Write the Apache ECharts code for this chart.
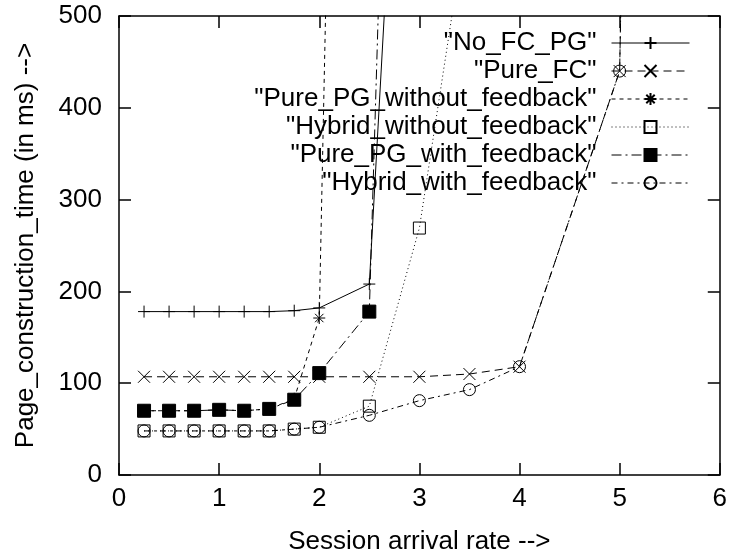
<!DOCTYPE html>
<html>
<head>
<meta charset="utf-8">
<script src="https://cdn.jsdelivr.net/npm/echarts@6/dist/echarts.min.js"></script>
<style>html,body{margin:0;padding:0;background:#fff;}#chart{width:730px;height:560px;}</style>
</head>
<body>
<div id="chart"></div>
<script>
// ---- data ----
const seriesNames = ['"No_FC_PG"', '"Pure_FC"', '"Pure_PG_without_feedback"', '"Hybrid_without_feedback"', '"Pure_PG_with_feedback"', '"Hybrid_with_feedback"'];
const noFcPgX = [0.25, 0.5, 0.75, 1, 1.25, 1.5, 1.75, 2, 2.5, 3];
const noFcPgY = [178, 178, 178, 178, 178, 178, 179, 182, 208, 1190];
const pureFcX = [0.25, 0.5, 0.75, 1, 1.25, 1.5, 1.75, 2, 2.5, 3, 3.5, 4, 5, 5.5];
const pureFcY = [107, 107, 107, 107, 107, 107, 107, 107, 107, 107, 110, 118, 440, 3400];
const purePgNoFbX = [0.25, 0.5, 0.75, 1, 1.25, 1.5, 1.75, 2, 2.5];
const purePgNoFbY = [70, 70, 70, 71, 70, 72, 83, 171, 2800];
const hybridNoFbX = [0.25, 0.5, 0.75, 1, 1.25, 1.5, 1.75, 2, 2.5, 3, 3.5];
const hybridNoFbY = [48, 48, 48, 48, 48, 48, 50, 52, 75, 269, 625];
const purePgFbX = [0.25, 0.5, 0.75, 1, 1.25, 1.5, 1.75, 2, 2.5, 3];
const purePgFbY = [70, 70, 70, 71, 70, 72, 82, 111, 178, 2000];
const hybridFbX = [0.25, 0.5, 0.75, 1, 1.25, 1.5, 1.75, 2, 2.5, 3, 3.5, 4, 5, 5.5];
const hybridFbY = [48, 48, 48, 48, 48, 48, 50, 52, 65, 81, 93, 118, 440, 3400];
const xMin = 0, xMax = 6, xStep = 1;
const yMin = 0, yMax = 500, yStep = 100;
const xTitle = 'Session arrival rate -->';
const yTitle = 'Page_construction_time (in ms) -->';

// ---- style ----
const FONT = '"Liberation Sans", Arial, sans-serif';
const FS = 26;
const sym = {
  plus: 'path://M0,5L10,5M5,0L5,10',
  cross: 'path://M0,0L10,10M10,0L0,10',
  star: 'path://M0,5L10,5M5,0L5,10M1.5,1.5L8.5,8.5M8.5,1.5L1.5,8.5',
  square: 'path://M0,0L10,0L10,10L0,10Z',
  circle: 'path://M10,5A5,5,0,1,1,0,5A5,5,0,1,1,10,5Z'
};
function pairs(xs, ys) { return xs.map((x, i) => [x, ys[i]]); }
function mk(name, xs, ys, symbol, dash, filled) {
  return {
    name: name, type: 'line', data: pairs(xs, ys),
    symbol: symbol, symbolSize: filled ? 13 : 12, symbolKeepAspect: true,
    showSymbol: true, clip: true, smooth: false,
    lineStyle: { color: '#000', width: 1, type: dash },
    itemStyle: { color: filled ? '#000' : 'rgba(0,0,0,0)', borderColor: '#000', borderWidth: 1 },
    emphasis: { disabled: true },
    xAxisIndex: 0, yAxisIndex: 0
  };
}
const series = [
  mk(seriesNames[0], noFcPgX, noFcPgY, sym.plus, 'solid', false),
  mk(seriesNames[1], pureFcX, pureFcY, sym.cross, [8, 5], false),
  mk(seriesNames[2], purePgNoFbX, purePgNoFbY, sym.star, [4, 4], false),
  mk(seriesNames[3], hybridNoFbX, hybridNoFbY, sym.square, [1, 3], false),
  mk(seriesNames[4], purePgFbX, purePgFbY, 'rect', [10, 4, 2, 4], true),
  mk(seriesNames[5], hybridFbX, hybridFbY, sym.circle, [6, 4, 2, 4], false)
];

const axisCommon = {
  axisLine: { show: true, onZero: false, lineStyle: { color: '#000', width: 1.5 } },
  axisTick: { show: true, inside: true, length: 12, lineStyle: { color: '#000', width: 1.5 } },
  splitLine: { show: false }
};

const chart = echarts.init(document.getElementById('chart'), null, { renderer: 'canvas' });
chart.setOption({
  animation: false,
  backgroundColor: '#fff',
  textStyle: { fontFamily: FONT },
  grid: { left: 119, right: 8, top: 16, bottom: 85, containLabel: false },
  xAxis: [
    Object.assign({ type: 'value', min: xMin, max: xMax, interval: xStep, position: 'bottom',
      name: xTitle, nameLocation: 'middle', nameGap: 54,
      nameTextStyle: { color: '#000', fontSize: FS, fontFamily: FONT },
      axisLabel: { color: '#000', fontSize: FS, fontFamily: FONT, margin: 11 } }, axisCommon),
    Object.assign({ type: 'value', min: xMin, max: xMax, interval: xStep, position: 'top',
      axisLabel: { show: false } }, axisCommon)
  ],
  yAxis: [
    Object.assign({ type: 'value', min: yMin, max: yMax, interval: yStep, position: 'left',
      name: yTitle, nameLocation: 'middle', nameGap: 80, nameRotate: 90,
      nameTextStyle: { color: '#000', fontSize: FS, fontFamily: FONT },
      axisLabel: { color: '#000', fontSize: FS, fontFamily: FONT, margin: 17 } }, axisCommon),
    Object.assign({ type: 'value', min: yMin, max: yMax, interval: yStep, position: 'right',
      axisLabel: { show: false } }, axisCommon)
  ],
  legend: {
    show: true, orient: 'vertical', align: 'right', padding: 0,
    right: 40, top: 30, itemWidth: 78, itemHeight: 15, itemGap: 2,
    selectedMode: false,
    data: seriesNames,
    textStyle: { color: '#000', fontSize: FS, fontFamily: FONT, padding: [0, 10, 0, 0] },
    lineStyle: { width: 1 }
  },
  series: series
});
</script>
</body>
</html>
